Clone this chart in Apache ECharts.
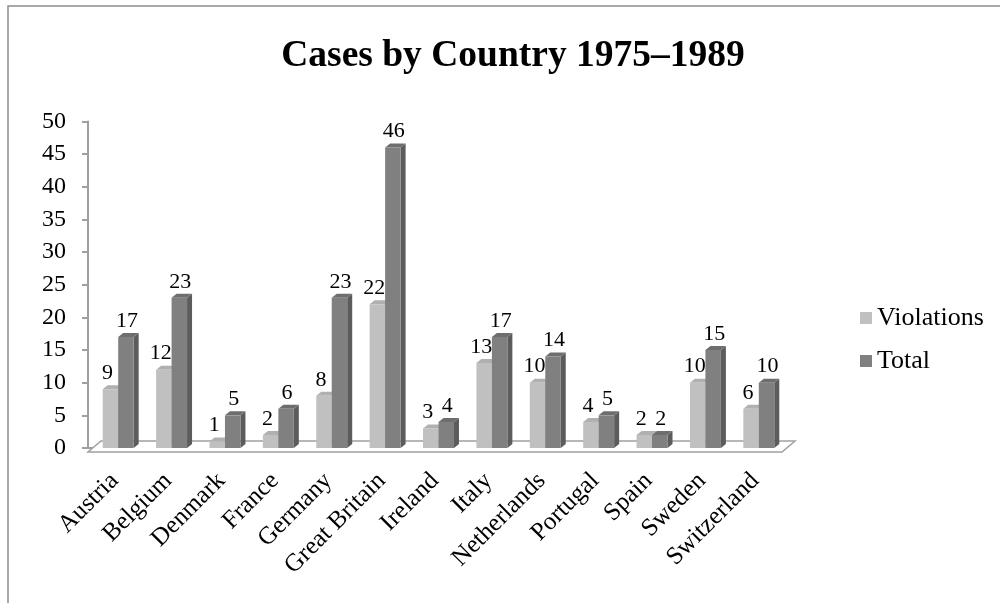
<!DOCTYPE html>
<html><head><meta charset="utf-8">
<script src="https://cdn.jsdelivr.net/npm/echarts@6/dist/echarts.min.js"></script>
<style>html,body{margin:0;padding:0;background:#fff}#c{width:1000px;height:603px}</style>
</head><body><div id="c"></div>
<script>
const categories = ['Austria','Belgium','Denmark','France','Germany','Great Britain','Ireland','Italy','Netherlands','Portugal','Spain','Sweden','Switzerland'];
const violations = [9,12,1,2,8,22,3,13,10,4,2,10,6];
const totals = [17,23,5,6,23,46,4,17,14,5,2,15,10];
const yTicks = {min:0, max:50, interval:5};

const FONT = '"Liberation Serif", "DejaVu Serif", serif';
const colors = [
  {front:'#c0c0c0', side:'#9c9c9c', top:'#b0b0b0'},
  {front:'#808080', side:'#5c5c5c', top:'#6e6e6e'}
];
const DX = 5, DY = 4;

function barRender(k){
  return function(params, api){
    const idx = api.value(0), val = api.value(1);
    const base = api.coord([idx, 0]);
    const topY = api.coord([idx, val])[1];
    const catW = api.size([1,0])[0];
    const bw = catW*0.29;
    const x0 = base[0] + 3.5 + (k-1)*bw;
    const x1 = x0 + bw;
    const y1 = base[1];
    const c = colors[k];
    const lx = (x0+x1)/2 + (k===0 ? -3 : 1);
    return {type:'group', children:[
      {type:'polygon', shape:{points:[[x1,topY],[x1+DX,topY-DY],[x1+DX,y1-DY],[x1,y1]]}, style:{fill:c.side}},
      {type:'polygon', shape:{points:[[x0,topY],[x0+DX,topY-DY],[x1+DX,topY-DY],[x1,topY]]}, style:{fill:c.top}},
      {type:'rect', shape:{x:x0, y:topY, width:bw, height:y1-topY}, style:{fill:c.front}},
      {type:'text', z2:100, style:{text:String(val), x:lx, y:topY-5, textAlign:'center', textVerticalAlign:'bottom', font:'22px '+FONT, fill:'#000'}}
    ]};
  };
}

function floorRender(params, api){
  const a = api.coord([0,0]), b = api.coord([categories.length-1,0]);
  const catW = api.size([1,0])[0];
  const xl = a[0]-catW/2, xr = b[0]+catW/2, y = a[1];
  const fy = y+4, by = y-7, d = 13;
  return {type:'polygon', shape:{points:[[xl,fy],[xr,fy],[xr+d,by],[xl+d,by]]},
    style:{fill:'#fff', stroke:'#a0a0a0', lineWidth:1.5}};
}

const chart = echarts.init(document.getElementById('c'));
chart.setOption({
  animation:false,
  backgroundColor:'#fff',
  title:{text:'Cases by Country 1975\u20131989', left:508, textAlign:'center', top:32,
    textStyle:{fontFamily:FONT, fontSize:37.5, fontWeight:'bold', color:'#000'}},
  graphic:[{type:'rect', shape:{x:8, y:6, width:1200, height:800}, style:{fill:null, stroke:'#8c8c8c', lineWidth:1.5}, silent:true, z:-1}],
  legend:{orient:'vertical', left:855, top:300, itemWidth:12, itemHeight:12, itemGap:17,
    data:['Violations','Total'], icon:'rect',
    textStyle:{fontFamily:FONT, fontSize:26, color:'#000'}},
  grid:{left:88, right:218, top:121.5, bottom:155},
  xAxis:{type:'category', data:categories, offset:4,
    axisLine:{lineStyle:{color:'#a0a0a0', width:2}},
    axisTick:{length:6, lineStyle:{color:'#a0a0a0', width:2}},
    axisLabel:{rotate:45, interval:0, margin:25, fontFamily:FONT, fontSize:25, color:'#000'}},
  yAxis:{type:'value', min:yTicks.min, max:yTicks.max, interval:yTicks.interval,
    axisLine:{show:true, lineStyle:{color:'#a0a0a0', width:2}},
    axisTick:{show:true, length:6, lineStyle:{color:'#a0a0a0', width:2}},
    splitLine:{show:false},
    axisLabel:{margin:22, fontFamily:FONT, fontSize:24, color:'#000'}},
  series:[
    {type:'custom', name:'floor', renderItem:floorRender, data:[[0,0]], silent:true, z:1},
    {type:'custom', name:'Violations', itemStyle:{color:colors[0].front}, renderItem:barRender(0),
      data:violations.map((v,i)=>[i,v]), z:2},
    {type:'custom', name:'Total', itemStyle:{color:colors[1].front}, renderItem:barRender(1),
      data:totals.map((v,i)=>[i,v]), z:2}
  ]
});
</script></body></html>
